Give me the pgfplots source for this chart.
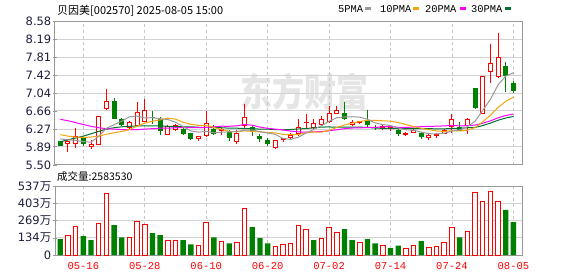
\documentclass[border=0pt]{standalone}
\usepackage{pgfplots}
\pgfplotsset{compat=1.18}
\usepackage{pgfplotstable}
\usepackage{fontspec}
\setmainfont{DejaVu Sans}
\newfontfamily\cjk{Noto Sans CJK SC}
\newfontfamily\mono{Liberation Mono}
\definecolor{cred}{HTML}{FF0000}
\definecolor{cgreen}{HTML}{008000}
\definecolor{ma5c}{HTML}{999999}
\definecolor{ma10c}{HTML}{F2A50C}
\definecolor{ma20c}{HTML}{FF00FF}
\definecolor{ma30c}{HTML}{00702F}
\definecolor{framec}{HTML}{999999}
\definecolor{gridc}{HTML}{D2D2D2}
\definecolor{labc}{HTML}{1E1E3C}

% moving averages
\pgfplotstableread{
i ma5 ma10 ma20 ma30
0 6.06 6.15 6.48 6.00
1 6.04 6.12 6.45 6.04
2 6.03 6.10 6.41 6.08
3 6.00 6.09 6.37 6.12
4 5.99 6.10 6.33 6.17
5 6.114 6.12 6.30 6.22
6 6.288 6.16 6.28 6.27
7 6.364 6.19 6.27 6.30
8 6.442 6.22 6.26 6.32
9 6.534 6.262 6.26 6.33
10 6.552 6.333 6.26 6.34
11 6.51 6.399 6.27 6.34
12 6.516 6.44 6.28 6.34
13 6.494 6.468 6.29 6.34
14 6.476 6.505 6.29 6.33
15 6.418 6.485 6.30 6.33
16 6.322 6.416 6.30 6.32
17 6.232 6.374 6.30 6.32
18 6.206 6.35 6.30 6.31
19 6.222 6.349 6.306 6.31
20 6.19 6.304 6.319 6.30
21 6.206 6.264 6.332 6.30
22 6.21 6.221 6.331 6.29
23 6.22 6.213 6.341 6.29
24 6.244 6.233 6.369 6.28
25 6.252 6.221 6.353 6.28
26 6.214 6.21 6.313 6.27
27 6.188 6.199 6.287 6.27
28 6.158 6.189 6.27 6.26
29 6.068 6.156 6.253 6.256
30 6.05 6.151 6.228 6.263
31 6.096 6.155 6.21 6.273
32 6.188 6.188 6.205 6.283
33 6.262 6.21 6.212 6.297
34 6.342 6.205 6.219 6.314
35 6.438 6.244 6.233 6.317
36 6.514 6.305 6.258 6.31
37 6.53 6.359 6.279 6.311
38 6.536 6.399 6.294 6.313
39 6.528 6.435 6.296 6.313
40 6.48 6.459 6.305 6.305
41 6.404 6.459 6.307 6.293
42 6.368 6.449 6.319 6.286
43 6.346 6.441 6.326 6.288
44 6.294 6.411 6.308 6.283
45 6.256 6.368 6.306 6.278
46 6.246 6.325 6.315 6.28
47 6.206 6.287 6.323 6.282
48 6.172 6.259 6.329 6.282
49 6.168 6.231 6.333 6.274
50 6.182 6.219 6.339 6.276
51 6.228 6.237 6.348 6.284
52 6.254 6.23 6.34 6.289
53 6.322 6.247 6.344 6.299
54 6.438 6.303 6.357 6.306
55 6.67 6.426 6.397 6.346
56 6.908 6.568 6.447 6.399
57 7.22 6.737 6.512 6.461
58 7.408 6.865 6.562 6.508
59 7.48 6.959 6.595 6.542
}\madata

% rising candles (close >= open)
\pgfplotstableread{
i o h l c
1 5.97 6.03 5.77 6.00
2 5.97 6.29 5.87 6.11
4 5.89 6.03 5.85 5.95
5 5.95 6.54 5.94 6.54
6 6.71 7.13 6.67 6.87
9 6.30 6.45 6.28 6.41
10 6.35 6.85 6.33 6.63
11 6.43 6.92 6.43 6.66
14 6.16 6.36 6.16 6.32
15 6.27 6.39 6.22 6.34
18 6.07 6.12 6.02 6.12
19 6.13 6.66 6.10 6.40
21 6.24 6.30 6.14 6.26
23 6.00 6.25 5.95 6.17
24 6.35 6.81 6.30 6.52
28 5.87 6.04 5.84 6.02
29 6.05 6.09 5.99 6.07
30 6.09 6.18 6.04 6.13
31 6.17 6.48 6.12 6.30
32 6.41 6.59 6.27 6.42
33 6.30 6.48 6.27 6.39
34 6.36 6.55 6.34 6.47
35 6.43 6.77 6.41 6.61
36 6.61 6.77 6.61 6.68
38 6.36 6.46 6.33 6.42
39 6.41 6.45 6.38 6.43
42 6.30 6.35 6.25 6.32
43 6.28 6.34 6.24 6.31
45 6.16 6.20 6.12 6.18
46 6.20 6.27 6.18 6.25
48 6.09 6.16 6.04 6.14
49 6.13 6.18 6.09 6.15
50 6.18 6.28 6.16 6.25
51 6.32 6.60 6.19 6.48
53 6.34 6.50 6.16 6.48
55 6.61 7.41 6.61 7.41
56 7.50 8.10 7.27 7.67
57 7.41 8.34 7.36 7.81
}\redK

% falling candles (close < open)
\pgfplotstableread{
i o h l c
0 6.00 6.02 5.90 5.92
3 6.06 6.11 5.91 5.97
7 6.87 6.93 6.49 6.49
8 6.48 6.51 6.34 6.36
12 6.53 6.66 6.39 6.52
13 6.48 6.54 6.14 6.25
16 6.27 6.31 6.15 6.18
17 6.17 6.18 6.03 6.07
20 6.27 6.36 6.15 6.18
22 6.20 6.25 6.01 6.09
25 6.30 6.36 6.13 6.22
26 6.11 6.17 6.00 6.07
27 6.02 6.09 5.91 5.96
37 6.60 6.86 6.46 6.50
40 6.45 6.67 6.30 6.37
41 6.31 6.36 6.25 6.30
44 6.24 6.27 6.12 6.17
47 6.18 6.20 6.06 6.12
52 6.31 6.42 6.23 6.25
54 7.15 7.15 6.70 6.73
58 7.62 7.72 7.07 7.42
59 7.24 7.30 7.05 7.09
}\grnK

\pgfplotstableread{
i v
1 153
2 224
5 247
6 484
9 137
10 263
11 242
14 116
15 116
18 74
19 255
21 108
23 97
24 366
28 66
29 82
30 89
31 232
32 200
34 129
35 216
36 176
39 97
42 74
45 50
46 74
48 58
49 66
50 100
51 216
53 187
54 492
55 421
56 500
57 421
}\volup

\pgfplotstableread{
i v
0 124
3 147
4 116
7 234
8 139
12 171
13 155
16 116
17 84
20 139
22 92
25 218
26 132
27 92
33 116
37 203
38 116
40 124
41 92
43 53
44 74
47 108
52 139
58 353
59 258
}\voldn

\pgfplotsset{
  kstyle/.style={
    scale only axis, width=467pt,
    xmin=-0.69, xmax=60.12,
    xtick={3,11,19,27,35,43,51,59},
    axis line style={framec, line width=1pt},
    xmajorgrids, ymajorgrids,
    x grid style={gray!45, line width=0.8pt, dash pattern=on 3pt off 3pt},
    y grid style={gridc, line width=1pt},
    xtick style={draw=none},
    ytick style={framec, line width=0.8pt},
    major tick length=4pt, tick align=center,
    ytick pos=left,
    /pgf/number format/assume math mode=true,
    yticklabel style={font=\fontsize{11.5}{13}\selectfont, text=labc, inner xsep=1.5pt},
  },
  pricebox/.style={
    scale only axis, width=467pt, height=143.5pt,
    at={(55pt,111pt)}, anchor=south west,
    xmin=-0.69, xmax=60.12, ymin=5.50, ymax=8.58,
  },
  wick/.style={only marks, mark=*, mark size=0pt,
    mark options={draw opacity=0, fill opacity=0},
    error bars/.cd, y dir=minus, y explicit, error mark=none,
    error bar style={#1, line width=1pt, opacity=1}},
}

\begin{document}
\begin{tikzpicture}
\path[use as bounding box] (0pt,0pt) rectangle (578pt,276pt);
\node[text=black!10, font=\cjk\bfseries\fontsize{32}{32}\selectfont, yscale=1.2] at (304pt,184pt) {东方财富};

% price panel frame, grid and wicks
\begin{axis}[kstyle, pricebox,
  ytick={5.50,5.89,6.27,6.66,7.04,7.42,7.81,8.19,8.58},
  yticklabels={5.50,5.89,6.27,6.66,7.04,7.42,7.81,8.19,8.58},
  xticklabels={,,,,,,,},
]
\addplot[wick=cred] table[x=i, y=h, y error minus expr=\thisrow{h}-\thisrow{l}]{\redK};
\addplot[wick=cgreen] table[x=i, y=h, y error minus expr=\thisrow{h}-\thisrow{l}]{\grnK};
\end{axis}

% rising bodies
\begin{axis}[pricebox, hide axis, ybar stacked, bar width=4pt]
\addplot[draw=none, fill=none] table[x=i, y=o]{\redK};
\addplot[draw=cred, fill=white, line width=1pt] table[x=i, y expr=\thisrow{c}-\thisrow{o}]{\redK};
\end{axis}

% falling bodies
\begin{axis}[pricebox, hide axis, ybar stacked, bar width=4pt]
\addplot[draw=none, fill=none] table[x=i, y=c]{\grnK};
\addplot[draw=cgreen, fill=cgreen, line width=1pt] table[x=i, y expr=\thisrow{o}-\thisrow{c}]{\grnK};
\end{axis}

% moving averages
\begin{axis}[pricebox, hide axis]
\addplot[ma30c, line width=1pt, mark=none] table[x=i, y=ma30]{\madata};
\addplot[ma20c, line width=1pt, mark=none] table[x=i, y=ma20]{\madata};
\addplot[ma10c, line width=1pt, mark=none] table[x=i, y=ma10]{\madata};
\addplot[ma5c, line width=1pt, mark=none] table[x=i, y=ma5]{\madata};
\end{axis}

% volume panel
\begin{axis}[kstyle,
  at={(55pt,21pt)}, anchor=south west, height=68.5pt,
  ymin=0, ymax=537,
  ytick={0,134,269,403,537},
  yticklabels={0,{134\cjk 万},{269\cjk 万},{403\cjk 万},{537\cjk 万}},
  xticklabels={05-16,05-28,06-10,06-20,07-02,07-14,07-24,08-05},
  xticklabel style={text=cred, font=\mono\fontsize{10.5}{12}\selectfont, yshift=-2pt},
]
\addplot[ybar, bar width=4.6pt, bar shift=0pt, draw=cred, fill=white, line width=1pt] table[x=i, y=v]{\volup};
\addplot[ybar, bar width=5.4pt, bar shift=0pt, draw=none, fill=cgreen] table[x=i, y=v]{\voldn};
\end{axis}

% titles
\node[anchor=west, inner sep=0pt, font=\cjk\fontsize{11}{12}\selectfont] at (57pt,265pt) {贝因美[002570] 2025-08-05 15:00};
\node[anchor=west, inner sep=0pt, font=\cjk\fontsize{10.5}{11}\selectfont] at (57pt,100pt) {成交量:2583530};
% legend
\begin{scope}[font=\mono\fontsize{10.4}{12}\selectfont]
\node[anchor=west, inner sep=0pt] at (338pt,267pt) {5PMA};
\fill[ma5c] (365pt,265.5pt) rectangle (371pt,269pt);
\node[anchor=west, inner sep=0pt] at (380pt,267pt) {10PMA};
\fill[ma10c] (413pt,265.5pt) rectangle (419pt,269pt);
\node[anchor=west, inner sep=0pt] at (425pt,267pt) {20PMA};
\fill[ma20c] (460pt,265.5pt) rectangle (466pt,269pt);
\node[anchor=west, inner sep=0pt] at (471pt,267pt) {30PMA};
\fill[ma30c] (505pt,265.5pt) rectangle (511pt,269pt);
\end{scope}
\end{tikzpicture}
\end{document}
